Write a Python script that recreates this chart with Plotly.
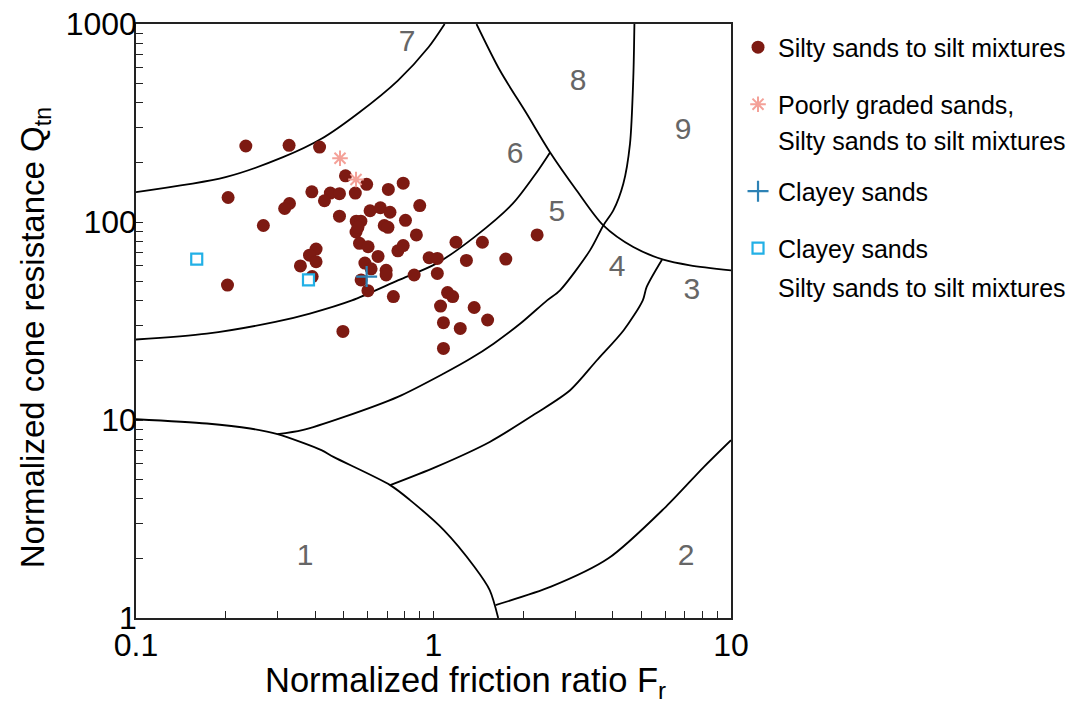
import plotly.graph_objects as go

# ---------------- data ----------------
# Silty sands to silt mixtures (Fr, Qtn)
silty_fr = [0.234, 0.327, 0.414, 0.506, 0.204, 0.390, 0.450, 0.483, 0.430, 0.546,
            0.596, 0.705, 0.791, 0.328, 0.316, 0.268, 0.483, 0.612, 0.663, 0.714,
            0.899, 0.550, 0.570, 0.549, 0.557, 0.683, 0.703, 0.805, 0.876, 0.564,
            0.603, 0.759, 0.791, 0.651, 0.403, 0.383, 0.403, 0.357, 0.203, 0.391,
            0.588, 0.617, 0.693, 0.693, 0.571, 0.861, 0.602, 0.733, 0.967, 1.03,
            1.19, 1.46, 1.29, 1.75, 2.23, 1.03, 1.115, 1.16, 1.056, 1.37,
            1.52, 1.08, 1.23, 0.496, 1.08]
silty_q = [242, 244, 239, 171, 133, 142, 140, 139, 128, 140,
           155, 146, 157, 124, 117, 96, 107, 114, 118, 112,
           121, 101, 101, 89, 94, 96, 94, 102, 86, 78,
           75, 71.5, 76, 67, 73, 68, 63, 60, 48, 53,
           62, 58, 57, 54, 51, 54, 45, 42, 66, 65.5,
           79, 79, 64, 65, 86, 55, 44, 42, 37.6, 37,
           32, 31, 29, 28, 23]

# Poorly graded sands, Silty sands to silt mixtures
poor_fr = [0.485, 0.549]
poor_q = [210, 164]

# Clayey sands
clayey_fr = [0.596]
clayey_q = [53]

# Clayey sands / Silty sands to silt mixtures
clsilt_fr = [0.160, 0.380]
clsilt_q = [65, 51]

# Soil-behaviour-type zone boundaries (Fr, Qtn)
b7_fr = [0.1, 0.200, 0.312, 0.420, 0.564, 0.759, 0.962, 1.09]
b7_q = [141.6, 168.5, 212.5, 263.2, 358.5, 518.1, 763, 1000]

b6_fr = [0.1, 0.173, 0.294, 0.384, 0.532, 0.759, 1.021, 1.372, 1.846, 2.206, 2.468]
b6_q = [25.5, 27.3, 31.3, 34.5, 40.2, 50.7, 61.6, 83.9, 123.7, 175.3, 225.3]

b8_fr = [1.395, 1.673, 2.058, 2.464, 3.029, 3.723, 4.695, 5.923, 7.28, 10.0]
b8_q = [1000, 582, 351.9, 225.3, 144.4, 96.1, 74.7, 64.5, 60.4, 57.0]

b5_fr = [0.299, 0.362, 0.501, 0.759, 1.083, 1.332, 1.592, 1.959, 2.409, 2.662,
         3.357, 3.723, 4.022, 4.345, 4.576, 4.695, 4.735]
b5_q = [8.48, 8.88, 10.36, 13.08, 17.17, 20.43, 24.3, 30.7, 40.2, 45.2,
        71.9, 96.1, 114.4, 156.1, 248.3, 538, 1000]

b4_fr = [0.715, 1.021, 1.545, 2.206, 2.879, 3.542, 4.358, 5.052, 5.203, 5.861]
b4_q = [4.69, 5.80, 7.75, 10.78, 14.14, 20.03, 28.4, 40.2, 46.9, 64.5]

b1_fr = [0.1, 0.173, 0.242, 0.299, 0.420, 0.461, 0.715, 0.834, 1.083, 1.372, 1.545, 1.650]
b1_q = [10.09, 9.60, 9.06, 8.48, 7.04, 6.51, 4.69, 3.94, 2.78, 1.815, 1.384, 1.0]

b2_fr = [1.616, 2.483, 3.872, 6.04, 8.11, 10.0]
b2_q = [1.163, 1.439, 2.001, 3.645, 5.80, 7.91]

zone_names = ["1", "2", "3", "4", "5", "6", "7", "8", "9"]
zone_fr = [0.370, 7.06, 7.39, 4.14, 2.60, 1.88, 0.815, 3.06, 6.90]
zone_q = [2.03, 2.03, 44.7, 58.3, 110, 217, 796, 506, 287]

x_ticks = [0.1, 1, 10]
x_ticktext = ["0.1", "1", "10"]
y_ticks = [1, 10, 100, 1000]
y_ticktext = ["1", "10", "100", "1000"]

# ---------------- figure ----------------
FONT = "Liberation Sans, Arial, sans-serif"
fig = go.Figure()

for bx, by in [(b7_fr, b7_q), (b6_fr, b6_q), (b8_fr, b8_q), (b5_fr, b5_q),
               (b4_fr, b4_q), (b1_fr, b1_q), (b2_fr, b2_q)]:
    fig.add_trace(go.Scatter(x=bx, y=by, mode="lines",
                             line=dict(color="black", width=1.8, shape="spline", smoothing=0.8),
                             showlegend=False, hoverinfo="skip"))

fig.add_trace(go.Scatter(x=zone_fr, y=zone_q, mode="text", text=zone_names,
                         textfont=dict(size=30, color="#666666", family=FONT),
                         showlegend=False, hoverinfo="skip"))

fig.add_trace(go.Scatter(x=silty_fr, y=silty_q, mode="markers",
                         name="Silty sands to silt mixtures",
                         marker=dict(symbol="circle", size=13, color="#7d1a12"),
                         legend="legend"))
fig.add_trace(go.Scatter(x=poor_fr, y=poor_q, mode="markers",
                         name="Poorly graded sands,",
                         marker=dict(symbol="asterisk-open", size=13, color="#f4a198",
                                     line=dict(color="#f4a198", width=2)),
                         legend="legend2"))
fig.add_trace(go.Scatter(x=clayey_fr, y=clayey_q, mode="markers",
                         name="Clayey sands",
                         marker=dict(symbol="cross-thin-open", size=15, color="#2d82b5",
                                     line=dict(color="#2d82b5", width=2.2)),
                         legend="legend3"))
fig.add_trace(go.Scatter(x=clsilt_fr, y=clsilt_q, mode="markers",
                         name="Clayey sands",
                         marker=dict(symbol="square", size=11, color="white",
                                     line=dict(color="#22b0e6", width=2.2)),
                         legend="legend4"))

axis_common = dict(type="log", showline=True, linecolor="#222", linewidth=1.5,
                   mirror=True, ticks="inside", ticklen=7, tickcolor="#222",
                   tickwidth=1.2, showgrid=False, zeroline=False, automargin=False,
                   tickfont=dict(size=32, family=FONT, color="black"))

fig.update_xaxes(range=[-1, 1], tickvals=x_ticks, ticktext=x_ticktext,
                 ticklabelstandoff=-2,
                 minor=dict(ticks="inside", ticklen=7, tickcolor="#222", tickwidth=1.2,
                            tickvals=[0.2, 0.3, 0.4, 0.5, 0.6, 0.7, 0.8, 0.9,
                                      2, 3, 4, 5, 6, 7, 8, 9], showgrid=False),
                 **axis_common)
fig.update_yaxes(range=[0, 3], tickvals=y_ticks, ticktext=y_ticktext,
                 ticklabelstandoff=-9,
                 minor=dict(ticks="inside", ticklen=7, tickcolor="#222", tickwidth=1.2,
                            tickvals=[2, 3, 4, 5, 6, 7, 8, 9, 20, 30, 40, 50, 60, 70, 80, 90,
                                      200, 300, 400, 500, 600, 700, 800, 900], showgrid=False),
                 **axis_common)

leg_common = dict(xanchor="left", yanchor="middle", x=1.0118,
                  font=dict(size=25, family=FONT, color="black"),
                  bgcolor="rgba(0,0,0,0)", borderwidth=0)
txt_font = dict(size=25, family=FONT, color="black")
fig.update_layout(
    width=1073, height=704,
    margin=dict(l=136, r=342, t=24, b=86, autoexpand=False),
    paper_bgcolor="white", plot_bgcolor="white",
    font=dict(family=FONT, color="black"),
    legend=dict(y=0.9605, **leg_common),
    legend2=dict(y=0.8646, **leg_common),
    legend3=dict(y=0.7182, **leg_common),
    legend4=dict(y=0.6224, **leg_common),
    annotations=[
        dict(text="Silty sands to silt mixtures", xref="paper", yref="paper",
             x=1.0756, y=0.8024, xanchor="left", yanchor="middle", showarrow=False,
             font=txt_font),
        dict(text="Silty sands to silt mixtures", xref="paper", yref="paper",
             x=1.0756, y=0.5551, xanchor="left", yanchor="middle", showarrow=False,
             font=txt_font),
        dict(text="Normalized friction ratio F<sub>r</sub>", xref="paper", yref="paper",
             x=0.553, y=-0.1093, xanchor="center", yanchor="middle", showarrow=False,
             font=dict(size=34.5, family=FONT, color="black")),
        dict(text="Normalized cone resistance Q<sub>tn</sub>", xref="paper", yref="paper",
             x=-0.1697, y=0.471, xanchor="center", yanchor="middle", showarrow=False,
             textangle=-90, font=dict(size=33, family=FONT, color="black")),
    ],
)

fig.write_html("out.html")
